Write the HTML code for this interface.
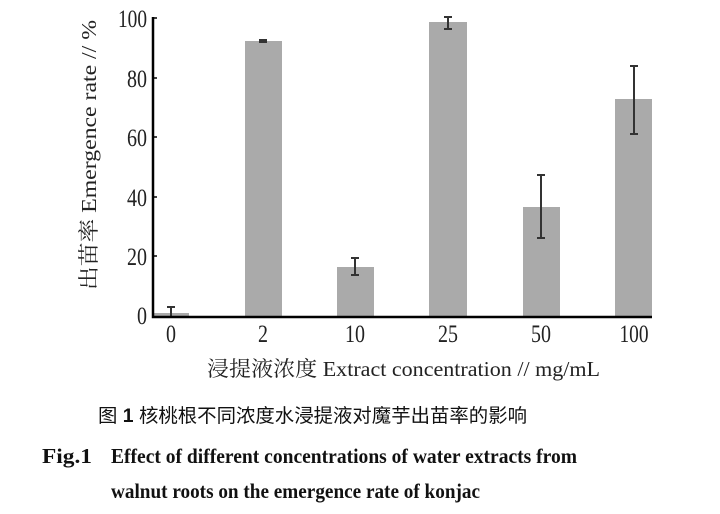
<!DOCTYPE html>
<html><head><meta charset="utf-8"><style>
html,body{margin:0;padding:0;background:#fff;}
svg{display:block;}
</style></head><body>
<svg width="720" height="514" viewBox="0 0 720 514" xmlns="http://www.w3.org/2000/svg">
<g fill="#aaaaaa">
<rect x="153" y="313" width="36" height="3"/>
<rect x="245" y="41" width="37" height="275"/>
<rect x="337" y="267" width="37" height="49"/>
<rect x="429" y="22" width="38" height="294"/>
<rect x="523" y="207" width="37" height="109"/>
<rect x="615" y="99" width="37" height="217"/>
</g>
<g stroke="#333" stroke-width="2" fill="none">
<path d="M171 307V316M167 307H175"/>
<path d="M263 40V42M259 40H267M259 42H267"/>
<path d="M355 258V275M351 258H359M351 275H359"/>
<path d="M448 17V29M444 17H452M444 29H452"/>
<path d="M541 175V238M537 175H545M537 238H545"/>
<path d="M634 66V134M630 66H638M630 134H638"/>
</g>
<g stroke="#000" stroke-width="2.5" fill="none">
<path d="M153 17V317H652"/>
</g>
<g stroke="#000" stroke-width="1.5">
<path d="M153 18H157M153 78H157M153 137H157M153 197H157M153 256H157"/>
</g>
<g font-family="Liberation Serif, serif" font-size="25" fill="#222" text-anchor="end">
<text x="147" y="27" textLength="29" lengthAdjust="spacingAndGlyphs">100</text>
<text x="147" y="87" textLength="20" lengthAdjust="spacingAndGlyphs">80</text>
<text x="147" y="146" textLength="20" lengthAdjust="spacingAndGlyphs">60</text>
<text x="147" y="206" textLength="20" lengthAdjust="spacingAndGlyphs">40</text>
<text x="147" y="265" textLength="20" lengthAdjust="spacingAndGlyphs">20</text>
<text x="147" y="324" textLength="10" lengthAdjust="spacingAndGlyphs">0</text>
</g>
<g font-family="Liberation Serif, serif" font-size="25" fill="#222" text-anchor="middle">
<text x="171" y="342" textLength="10" lengthAdjust="spacingAndGlyphs">0</text>
<text x="263" y="342" textLength="10" lengthAdjust="spacingAndGlyphs">2</text>
<text x="355" y="342" textLength="20" lengthAdjust="spacingAndGlyphs">10</text>
<text x="448" y="342" textLength="20" lengthAdjust="spacingAndGlyphs">25</text>
<text x="541" y="342" textLength="20" lengthAdjust="spacingAndGlyphs">50</text>
<text x="634" y="342" textLength="29" lengthAdjust="spacingAndGlyphs">100</text>
</g>
<text x="207" y="376" font-family="Liberation Serif, 'Noto Serif CJK SC', serif" font-size="21" fill="#222" textLength="393" lengthAdjust="spacingAndGlyphs">浸提液浓度 Extract concentration // mg/mL</text>
<text transform="translate(96,290) rotate(-90)" font-family="Liberation Serif, 'Noto Serif CJK SC', serif" font-size="21" fill="#222" textLength="270" lengthAdjust="spacingAndGlyphs">出苗率 Emergence rate // %</text>
<text x="98" y="422" font-family="Liberation Sans, 'Noto Sans CJK SC', sans-serif" font-size="19" fill="#111" textLength="429" lengthAdjust="spacingAndGlyphs">图 <tspan font-weight="bold">1</tspan>   核桃根不同浓度水浸提液对魔芋出苗率的影响</text>
<g font-family="Liberation Serif, serif" font-size="21" font-weight="bold" fill="#111">
<text x="42" y="463" textLength="50" lengthAdjust="spacingAndGlyphs">Fig.1</text>
<text x="111" y="463" textLength="466" lengthAdjust="spacingAndGlyphs">Effect of different concentrations of water extracts from</text>
<text x="111" y="498" textLength="369" lengthAdjust="spacingAndGlyphs">walnut roots on the emergence rate of konjac</text>
</g>
</svg>
</body></html>
